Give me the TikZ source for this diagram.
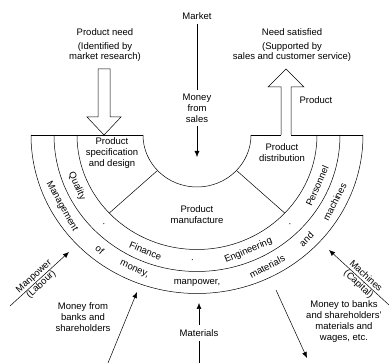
\documentclass[tikz,border=0pt]{standalone}
\usepackage{fontspec}
\setmainfont{Liberation Sans}
\usetikzlibrary{arrows.meta}
\begin{document}
\begin{tikzpicture}[x=1pt,y=1pt,line width=0.5pt,
    txt/.style={font=\fontsize{9.5}{10.8}\selectfont, align=center, inner sep=2pt},
    ringtxt/.style={font=\fontsize{9.5}{10.8}\selectfont, inner sep=0pt},
    flow/.style={-{Latex[length=6pt,width=5pt]}}]
    \useasboundingbox (0,0) rectangle (389,363);
    % the rings
    \begin{scope}[shift={(197,228)}]
        \draw (-54,0) arc[start angle=180, end angle=360, x radius=54, y radius=52];
        \draw (-120,0) arc[start angle=180, end angle=360, x radius=120, y radius=114.5];
        \draw (-143,0) arc[start angle=180, end angle=360, x radius=143, y radius=136.5];
        \draw (-166,0) arc[start angle=180, end angle=360, x radius=166, y radius=158.5];
        \draw (-166,0) -- (-54,0);
        \draw (54,0) -- (84,0);
        \draw (94,0) -- (166,0);
        \draw (223:54 and 52) -- (223:120 and 114.5);
        \draw (317:54 and 52) -- (317:120 and 114.5);
        \foreach \a/\t in {204/Quality, 225/., 247/Finance, 268/., 293/Engineering, 315/., 336/Personnel}
            \node [ringtxt, rotate=\a+90] at (\a:131.5 and 125.5) {\t};
        \foreach \a/\t in {209/Management, 231/of, 246/{money,}, 270/{manpower,}, 297/materials, 315/and, 333/machines}
            \node [ringtxt, rotate=\a+90] at (\a:154.5 and 147.5) {\t};
    \end{scope}
    % hollow arrows
    \draw (98,294) -- (98,246) -- (87,246) -- (104,228) -- (121,246) -- (110,246) -- (110,294) -- cycle;
    \draw (281,228) -- (281,276) -- (268,276) -- (286,294) -- (304,276) -- (291,276) -- (291,228);
    % texts
    \node [txt] (need) at (105,331) {Product need};
    \node [txt] (ident) at (105,311) {(Identified by\\market research)};
    \node [txt] (sat) at (292,331) {Need satisfied};
    \node [txt] (supp) at (292,311) {(Supported by\\sales and customer service)};
    \node [txt] (prodlbl) at (316,263) {Product};
    \node [txt] (spec) at (112,210) {Product\\specification\\and design};
    \node [txt] (dist) at (282,210) {Product\\distribution};
    \node [txt] (manuf) at (197,148) {Product\\manufacture};
    % money from sales
    \node [txt, inner sep=4pt] (market) at (197,347) {Market};
    \node [txt, inner sep=4pt] (sales) at (197,255) {Money\\from\\sales};
    \coordinate (salesend) at (197,206);
    \draw (market) -- (sales);
    \draw [flow] (sales) -- (salesend);
    % inputs and outputs
    \coordinate (lab0) at (10,57);
    \coordinate (lab1) at (69,111);
    \draw [flow] (lab0) -- (lab1) node [txt, pos=0.47, rotate=42.5, inner sep=0pt] (manpower) {Manpower\\(Labour)};
    \coordinate (cap0) at (389,58);
    \coordinate (cap1) at (329,113);
    \draw [flow] (cap0) -- (cap1) node [txt, pos=0.45, rotate=-42.5, inner sep=0pt] (machines) {Machines\\(Capital)};
    \node [txt] (banks) at (83,46) {Money from\\banks and\\shareholders};
    \coordinate (bk0) at (108,0);
    \coordinate (bk1) at (137,71);
    \draw [flow] (bk0) -- (bk1);
    \node [txt, inner sep=4pt] (mat) at (199,30) {Materials};
    \coordinate (mat0) at (199,0);
    \coordinate (mat1) at (199,60);
    \draw (mat0) -- (mat);
    \draw [flow] (mat) -- (mat1);
    \node [txt] (paid) at (344,41.5) {Money to banks\\and shareholders'\\materials and\\wages, etc.};
    \coordinate (out0) at (276,73);
    \coordinate (out1) at (307,5);
    \draw [flow] (out0) -- (out1);
\end{tikzpicture}
\end{document}
